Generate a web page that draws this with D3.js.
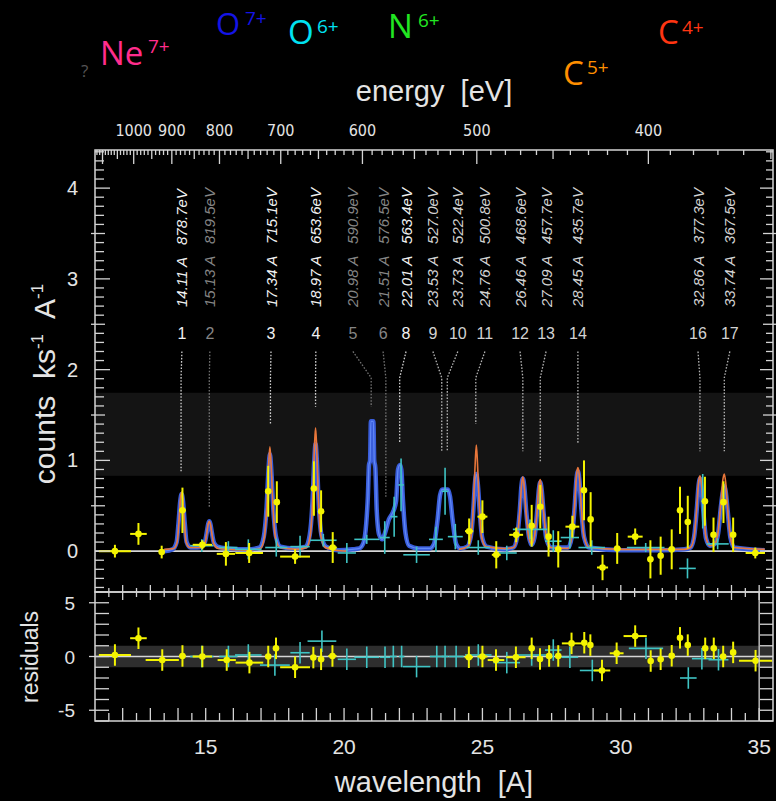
<!DOCTYPE html>
<html>
<head>
<meta charset="utf-8">
<script src="https://cdn.jsdelivr.net/npm/d3@7"></script>
<style>
  html, body { margin: 0; padding: 0; background: #000; }
  svg { display: block; }
</style>
</head>
<body>
<svg id="chart" width="776" height="801"></svg>
<script>
// ---------------- data ----------------
// identified emission lines
const lineIds      = ["1","2","3","4","5","6","8","9","10","11","12","13","14","16","17"];
const lineWave     = [14.11,15.13,17.34,18.97,20.98,21.51,22.01,23.53,23.73,24.76,26.46,27.09,28.45,32.86,33.74];
const lineEnergy   = ["878.7","819.5","715.1","653.6","590.9","576.5","563.4","527.0","522.4","500.8","468.6","457.7","435.7","377.3","367.5"];
const lineLabelAt  = [14.14,15.15,17.36,18.98,20.32,21.41,22.24,23.21,24.11,25.09,26.36,27.30,28.45,32.79,33.94];
const lineMarkEnd  = [0.88,0.49,1.40,1.59,1.59,0.60,1.19,1.10,1.10,1.40,1.10,0.99,1.19,1.10,1.10];
const lineTone     = ["hi","lo","hi","hi","lo","lo","hi","mid","mid","mid","mid","mid","mid","mid","mid"];

// ion species labels
const ionName   = ["Ne","O","O","N","C","C"];
const ionCharge = ["7+","7+","6+","6+","5+","4+"];
const ionColor  = ["#ff2d8c","#1414e6","#00e2f2","#22e622","#ff8f00","#ff3512"];

// top axis: photon energy (eV)
const energyTicks = [1000,900,800,700,600,500,400];
// bottom axis: wavelength (A)
const waveTicks = [15,20,25,30,35];
const countTicks = [0,1,2,3,4];
const residTicks = [-5,0,5];

// model spectrum, instrument 1 (blue), [wavelength, counts/ks/A]
const modelBlue = [
  [13.50,0.00],[13.80,0.02],[13.95,0.10],[14.02,0.32],[14.08,0.55],[14.13,0.63],[14.18,0.55],[14.24,0.32],[14.31,0.10],[14.45,0.04],
  [14.70,0.04],[14.85,0.05],[14.97,0.10],[15.04,0.21],[15.09,0.30],[15.13,0.33],[15.17,0.30],[15.22,0.21],[15.29,0.10],[15.42,0.05],
  [15.80,0.03],[16.50,0.02],[16.95,0.04],[17.10,0.16],[17.20,0.48],[17.27,0.90],[17.32,1.07],[17.37,0.90],[17.44,0.48],[17.54,0.16],
  [17.70,0.05],[18.20,0.03],[18.62,0.05],[18.76,0.18],[18.86,0.55],[18.92,0.98],[18.97,1.18],[19.02,0.98],[19.08,0.55],[19.18,0.18],
  [19.35,0.05],[19.80,0.01],[20.30,0.02],[20.55,0.03],[20.70,0.09],[20.80,0.30],[20.86,0.60],[20.90,0.95],[20.94,1.00],[20.97,1.43],
  [21.06,1.43],[21.09,1.00],[21.13,0.92],[21.18,0.45],[21.27,0.18],[21.38,0.13],[21.50,0.22],[21.62,0.35],[21.75,0.42],[21.88,0.55],
  [21.95,0.90],[22.02,0.95],[22.07,0.90],[22.13,0.55],[22.22,0.20],[22.35,0.06],[22.70,0.03],[23.10,0.03],[23.25,0.08],[23.38,0.35],
  [23.47,0.62],[23.55,0.68],[23.75,0.68],[23.83,0.60],[23.92,0.35],[24.05,0.08],[24.20,0.03],[24.45,0.05],[24.58,0.16],[24.67,0.45],
  [24.73,0.75],[24.78,0.85],[24.83,0.75],[24.90,0.45],[24.99,0.15],[25.15,0.05],[25.80,0.02],[26.12,0.04],[26.25,0.15],[26.35,0.45],
  [26.41,0.72],[26.46,0.80],[26.51,0.72],[26.58,0.45],[26.68,0.16],[26.78,0.07],[26.88,0.15],[26.98,0.45],[27.04,0.68],[27.09,0.76],
  [27.14,0.68],[27.21,0.42],[27.31,0.14],[27.48,0.04],[28.10,0.04],[28.23,0.16],[28.33,0.48],[28.40,0.80],[28.45,0.88],[28.50,0.80],
  [28.57,0.48],[28.67,0.16],[28.85,0.04],[30.00,0.01],[31.50,0.01],[32.30,0.02],[32.52,0.04],[32.65,0.16],[32.75,0.48],[32.81,0.72],
  [32.86,0.80],[32.91,0.72],[32.98,0.45],[33.08,0.14],[33.22,0.06],[33.40,0.08],[33.52,0.20],[33.62,0.50],[33.69,0.66],[33.74,0.72],
  [33.79,0.66],[33.86,0.45],[33.96,0.15],[34.10,0.04],[35.20,0.01]
];

// model spectrum, instrument 2 (orange), two detector segments
const modelOrangeA = [
  [13.50,0.02],[13.85,0.03],[13.97,0.10],[14.04,0.35],[14.09,0.58],[14.13,0.65],[14.17,0.58],[14.22,0.35],[14.29,0.10],[14.42,0.04],
  [14.80,0.04],[14.97,0.08],[15.04,0.20],[15.09,0.30],[15.13,0.33],[15.17,0.30],[15.22,0.20],[15.29,0.08],[15.45,0.03],[16.50,0.01],
  [16.98,0.03],[17.12,0.15],[17.21,0.50],[17.28,0.98],[17.32,1.15],[17.36,0.98],[17.43,0.50],[17.52,0.15],[17.68,0.04],[18.30,0.02],
  [18.65,0.04],[18.78,0.17],[18.87,0.60],[18.93,1.15],[18.97,1.36],[19.01,1.15],[19.07,0.60],[19.16,0.17],[19.32,0.04],[19.70,0.01],
  [20.10,0.00]
];
const modelOrangeB = [
  [24.15,0.02],[24.47,0.05],[24.60,0.18],[24.68,0.55],[24.74,0.98],[24.78,1.17],[24.82,0.98],[24.88,0.55],[24.96,0.17],[25.12,0.05],
  [25.80,0.03],[26.13,0.04],[26.26,0.16],[26.36,0.48],[26.42,0.75],[26.46,0.82],[26.50,0.75],[26.57,0.45],[26.67,0.16],[26.78,0.08],
  [26.88,0.16],[26.98,0.46],[27.04,0.72],[27.09,0.79],[27.14,0.70],[27.21,0.44],[27.31,0.15],[27.48,0.04],[28.10,0.03],[28.23,0.16],
  [28.33,0.50],[28.40,0.84],[28.45,0.92],[28.50,0.84],[28.57,0.50],[28.67,0.16],[28.85,0.04],[30.00,0.02],[31.50,0.02],[32.30,0.02],
  [32.52,0.04],[32.65,0.16],[32.75,0.50],[32.81,0.76],[32.86,0.83],[32.91,0.76],[32.98,0.47],[33.08,0.15],[33.22,0.06],[33.40,0.08],
  [33.52,0.22],[33.62,0.55],[33.69,0.79],[33.74,0.85],[33.79,0.76],[33.86,0.48],[33.96,0.15],[34.10,0.04],[35.20,0.02]
];

// measured spectrum, instrument 2 (yellow): [wavelength, counts, half-bin, error]
const dataYellow = [
  [11.72,0.00,0.58,0.07],[12.57,0.19,0.30,0.12],[13.41,-0.01,0.10,0.07],[14.16,0.45,0.12,0.25],[14.88,0.07,0.35,0.05],
  [15.73,-0.03,0.33,0.13],[16.57,-0.02,0.50,0.11],[17.26,0.66,0.10,0.28],[17.57,0.54,0.10,0.23],[18.23,-0.06,0.54,0.08],
  [18.91,0.69,0.08,0.30],[19.17,0.44,0.10,0.23],[19.59,0.04,0.15,0.17],[24.52,0.22,0.15,0.14],[25.00,0.38,0.18,0.18],
  [25.50,-0.04,0.16,0.15],[26.22,0.18,0.25,0.08],[26.78,0.28,0.06,0.23],[27.09,0.49,0.06,0.24],[27.39,0.16,0.06,0.22],
  [27.74,0.02,0.06,0.20],[28.25,0.27,0.25,0.12],[28.67,0.67,0.05,0.33],[28.91,0.35,0.05,0.30],[29.34,-0.18,0.20,0.14],
  [29.87,0.03,0.12,0.17],[30.52,0.16,0.27,0.09],[31.07,-0.09,0.10,0.21],[31.44,-0.05,0.05,0.21],[31.84,0.02,0.12,0.22],
  [32.14,0.45,0.05,0.26],[32.42,0.32,0.05,0.29],[33.04,0.55,0.05,0.27],[33.35,0.18,0.05,0.19],[33.71,0.54,0.05,0.23],
  [34.06,0.18,0.05,0.19],[34.86,-0.02,0.35,0.06]
];
// measured spectrum, instrument 1 (cyan)
const dataCyan = [
  [14.86,0.06,0.42,0.07],[15.82,0.04,0.33,0.07],[16.54,0.02,0.48,0.11],[17.55,0.04,0.40,0.10],[18.41,0.05,0.35,0.12],
  [19.25,0.12,0.48,0.07],[20.10,-0.02,0.33,0.11],[20.82,0.13,0.45,0.05],[21.47,0.15,0.18,0.18],[21.81,0.38,0.12,0.22],
  [22.06,0.73,0.10,0.29],[22.62,-0.04,0.48,0.09],[23.32,0.13,0.25,0.14],[23.65,0.66,0.12,0.26],[24.02,0.16,0.27,0.14],
  [24.85,0.04,0.42,0.08],[25.88,-0.02,0.36,0.08],[26.72,0.24,0.62,0.11],[27.56,0.11,0.30,0.12],[28.16,0.15,0.33,0.12],
  [28.95,0.04,0.48,0.08],[30.90,0.04,0.68,0.05],[32.41,-0.19,0.30,0.11],[32.96,0.55,0.06,0.30],[33.50,0.08,0.40,0.06]
];

// residuals in units of sigma: [wavelength, residual, half-bin]
const residYellow = [
  [11.72,0.14,0.58],[12.57,1.70,0.30],[13.43,-0.33,0.60],[14.16,0.05,0.12],[14.88,0.00,0.35],[15.76,-0.33,0.33],
  [16.58,-0.57,0.50],[17.26,0.00,0.10],[17.54,0.76,0.10],[18.23,-1.00,0.54],[18.89,-0.10,0.08],[19.17,-0.26,0.10],
  [19.58,0.05,0.15],[24.51,-0.07,0.15],[25.00,0.00,0.18],[25.49,-0.33,0.30],[26.21,-0.07,0.35],[26.78,0.76,0.06],
  [27.08,-0.23,0.06],[27.41,0.05,0.06],[27.74,0.05,0.06],[28.22,1.22,0.35],[28.68,1.28,0.05],[28.90,1.06,0.05],
  [29.32,-1.30,0.30],[29.85,0.30,0.25],[30.52,1.90,0.42],[31.08,-0.42,0.05],[31.44,-0.26,0.05],[31.84,0.07,0.05],
  [32.14,1.74,0.05],[32.42,1.06,0.05],[33.05,0.76,0.05],[33.36,0.76,0.05],[33.70,0.00,0.05],[34.06,0.38,0.05],
  [34.87,-0.39,0.60]
];
const residCyan = [
  [14.86,0.00,0.42],[15.82,0.00,0.33],[16.54,0.14,0.48],[17.50,-0.80,0.54],[18.41,0.35,0.35],[19.20,1.43,0.52],
  [20.10,-0.26,0.33],[20.82,-0.07,0.45],[21.48,-0.07,0.18],[21.78,0.00,0.12],[22.08,0.00,0.10],[22.62,-0.94,0.50],
  [23.35,0.00,0.25],[23.65,0.00,0.12],[24.05,0.00,0.27],[24.85,0.14,0.48],[25.88,-0.57,0.48],[26.78,0.14,0.62],
  [27.56,0.60,0.30],[28.16,-0.07,0.30],[28.97,-1.30,0.45],[30.91,0.76,0.62],[32.44,-2.00,0.30],[32.93,-0.20,0.36],
  [33.53,-0.30,0.36]
];

// shaded reference bands
const mainBand  = [0.83, 1.745];
const residBand = [-1, 1];

// ---------------- layout ----------------
const W = 776, H = 801;
const L = 95, R = 773, T = 150, MB = 592, RB = 721;
const HC = 12.39842; // keV * A

const x  = d3.scaleLinear().domain([11, 35.5]).range([L, R]);
const y  = d3.scaleLinear().domain([-0.45, 4.42]).range([MB, T]);
const yr = d3.scaleLinear().domain([-6, 6]).range([RB, MB]);
const xE = e => x(HC * 1000 / e);

const FG = "#e4e4e4";
const SANS = "'Liberation Sans', Arial, Helvetica, sans-serif";
const NARROW = "'Liberation Sans Narrow', 'DejaVu Sans Condensed', 'Liberation Sans', sans-serif";

const svg = d3.select("#chart");
svg.append("rect").attr("width", W).attr("height", H).attr("fill", "#000");

// bands
svg.append("rect")
  .attr("x", L).attr("width", R - L)
  .attr("y", y(mainBand[1])).attr("height", y(mainBand[0]) - y(mainBand[1]))
  .attr("fill", "#141414");
svg.append("rect")
  .attr("x", L).attr("width", R - L)
  .attr("y", yr(residBand[1])).attr("height", yr(residBand[0]) - yr(residBand[1]))
  .attr("fill", "#2e2e2e");

// zero lines
svg.append("line").attr("x1", L).attr("x2", R).attr("y1", y(0)).attr("y2", y(0))
  .attr("stroke", "#d6d6d6").attr("stroke-width", 1.6);
svg.append("line").attr("x1", L).attr("x2", R).attr("y1", yr(0)).attr("y2", yr(0))
  .attr("stroke", "#d6d6d6").attr("stroke-width", 1.4);

// model curves
const modelLine = d3.line().x(d => x(d[0])).y(d => y(d[1])).curve(d3.curveMonotoneX);
svg.append("path").attr("d", modelLine(modelBlue))
  .attr("fill", "none").attr("stroke", "#3a5edb").attr("stroke-width", 4.5)
  .attr("stroke-linejoin", "round");
svg.append("path").attr("d", modelLine(modelBlue))
  .attr("fill", "none").attr("stroke", "#6f97ff").attr("stroke-width", 1.2).attr("opacity", 0.75);
[modelOrangeA, modelOrangeB].forEach(seg => {
  svg.append("path").attr("d", modelLine(seg))
    .attr("fill", "none").attr("stroke", "#e8763a").attr("stroke-width", 1.6);
});

// line identifications
const toneColor = { hi: "#f2f2f2", mid: "#d2d2d2", lo: "#858585" };
const leaderTop = 2.2, leaderKink = 1.91, numberBase = 2.34, labelStart = 2.69;
const ids = svg.append("g");
lineIds.forEach((id, i) => {
  const xl = x(lineLabelAt[i]), xw = x(lineWave[i]);
  const col = toneColor[lineTone[i]];
  ids.append("path")
    .attr("d", `M${xl},${y(leaderTop)} L${xw},${y(leaderKink)} L${xw},${y(lineMarkEnd[i])}`)
    .attr("fill", "none").attr("stroke", col).attr("stroke-width", 1.3)
    .attr("stroke-dasharray", "1.6,1.6").attr("opacity", 0.85);
  ids.append("text")
    .attr("x", xl).attr("y", y(numberBase))
    .attr("text-anchor", "middle").attr("fill", col)
    .attr("font-family", SANS).attr("font-size", 16)
    .text(id);
  ids.append("text")
    .attr("transform", `translate(${xl + 5.5},${y(labelStart)}) rotate(-90)`)
    .attr("fill", col).attr("font-family", SANS).attr("font-size", 15)
    .attr("font-style", "italic").style("white-space", "pre")
    .text(`${lineWave[i].toFixed(2)} A   ${lineEnergy[i]}eV`);
});

// measured points with error bars
function crosses(g, data, ys, color, width, dot) {
  const sel = g.selectAll("g").data(data).enter().append("g");
  sel.append("line")
    .attr("x1", d => x(d[0] - d[2])).attr("x2", d => x(d[0] + d[2]))
    .attr("y1", d => ys(d[1])).attr("y2", d => ys(d[1]))
    .attr("stroke", color).attr("stroke-width", width);
  sel.append("line")
    .attr("x1", d => x(d[0])).attr("x2", d => x(d[0]))
    .attr("y1", d => ys(d[1] - d[3])).attr("y2", d => ys(d[1] + d[3]))
    .attr("stroke", color).attr("stroke-width", width);
  if (dot) sel.append("circle").attr("cx", d => x(d[0])).attr("cy", d => ys(d[1]))
    .attr("r", 3.3).attr("fill", color);
}
crosses(svg.append("g"), dataCyan, y, "#3fc4c4", 1.6, false);
crosses(svg.append("g"), dataYellow, y, "#f4f400", 2, true);
crosses(svg.append("g"), residCyan.map(d => [d[0], d[1], d[2], 1]), yr, "#3fc4c4", 1.6, false);
crosses(svg.append("g"), residYellow.map(d => [d[0], d[1], d[2], 1]), yr, "#f4f400", 2, true);

// frames and ticks
const frame = svg.append("g").attr("stroke", "#d4d4d4").attr("fill", "none");
frame.append("rect").attr("x", L).attr("y", T).attr("width", R - L).attr("height", MB - T).attr("stroke-width", 1.5);
frame.append("rect").attr("x", L).attr("y", MB).attr("width", R - L).attr("height", RB - MB).attr("stroke-width", 1.5);
frame.append("line").attr("x1", x(35)).attr("x2", x(35)).attr("y1", MB).attr("y2", RB).attr("stroke-width", 1.3);

const tk = svg.append("g").attr("stroke", "#d4d4d4").attr("stroke-width", 1.3);
// energy ticks along the top
d3.range(350, 1130, 10).forEach(e => {
  const len = e % 100 === 0 ? 14 : (e % 50 === 0 ? 9 : 5);
  tk.append("line").attr("x1", xE(e)).attr("x2", xE(e)).attr("y1", T).attr("y2", T + len);
});
// wavelength ticks, every half Angstrom
d3.range(11.5, 35.5, 0.5).forEach(w => {
  const major = Number.isInteger(w);
  tk.append("line").attr("x1", x(w)).attr("x2", x(w))
    .attr("y1", MB - (major ? 7 : 4)).attr("y2", MB + (major ? 8 : 5));
  tk.append("line").attr("x1", x(w)).attr("x2", x(w))
    .attr("y1", RB).attr("y2", RB - (major ? 13 : 8));
});
// count-rate ticks, left and right
d3.range(-4, 45, 1).map(v => v / 10).forEach(v => {
  const isInt = Math.abs(v - Math.round(v)) < 1e-6;
  const isHalf = !isInt && Math.abs(v * 2 - Math.round(v * 2)) < 1e-6;
  const inner = isInt ? 15 : (isHalf ? 10 : 9);
  const outer = isHalf ? 4 : 0;
  tk.append("line").attr("x1", L - outer).attr("x2", L + inner).attr("y1", y(v)).attr("y2", y(v));
  tk.append("line").attr("x1", R + outer).attr("x2", R - (isInt ? 13 : (isHalf ? 10 : 7))).attr("y1", y(v)).attr("y2", y(v));
});
// residual ticks
d3.range(-6, 7, 1).forEach(v => {
  const major = v % 5 === 0;
  tk.append("line").attr("x1", L - (major ? 6 : 0)).attr("x2", L + 14).attr("y1", yr(v)).attr("y2", yr(v));
  tk.append("line").attr("x1", R).attr("x2", R - 13).attr("y1", yr(v)).attr("y2", yr(v));
});

// tick labels
const lab = svg.append("g").attr("fill", FG).attr("font-family", SANS);
energyTicks.forEach(e => {
  lab.append("text").attr("x", xE(e)).attr("y", 136).attr("text-anchor", "middle")
    .attr("font-family", NARROW).attr("font-size", 16).text(e);
});
waveTicks.forEach(w => {
  lab.append("text").attr("x", x(w)).attr("y", 754).attr("text-anchor", "middle")
    .attr("font-size", 21).text(w);
});
countTicks.forEach(v => {
  lab.append("text").attr("x", 78).attr("y", y(v) + 7).attr("text-anchor", "end")
    .attr("font-size", 20).text(v);
});
residTicks.forEach(v => {
  lab.append("text").attr("x", 75).attr("y", yr(v) + 7).attr("text-anchor", "end")
    .attr("font-size", 19).text(v < 0 ? "-" + Math.abs(v) : v);
});

// axis titles
lab.append("text").attr("x", 434).attr("y", 101).attr("text-anchor", "middle")
  .attr("font-size", 29).style("white-space", "pre").text("energy  [eV]");
lab.append("text").attr("x", 434).attr("y", 792).attr("text-anchor", "middle")
  .attr("font-size", 29).style("white-space", "pre").text("wavelength  [A]");
lab.append("text").attr("transform", "translate(38,657) rotate(-90)").attr("text-anchor", "middle")
  .attr("font-size", 23).text("residuals");
const yt = lab.append("text").attr("transform", "translate(55,384) rotate(-90)")
  .attr("text-anchor", "middle").attr("font-size", 30).style("white-space", "pre");
yt.append("tspan").text("counts  ks");
yt.append("tspan").attr("dy", -12).attr("font-size", 17).text("-1");
yt.append("tspan").attr("dy", 12).text("  A");
yt.append("tspan").attr("dy", -12).attr("font-size", 17).text("-1");

// ion species
const ionPos = [[100,65,148,53,33],[216,35,245,25,31],[288,44,317,33,33],[388,38,418,27,33],[563,85,587,74,33],[658,44,682,34,33]];
const ions = svg.append("g").attr("font-family", "'Open Sans', 'Noto Sans', sans-serif");
ionName.forEach((n, i) => {
  const p = ionPos[i];
  ions.append("text").attr("x", p[0]).attr("y", p[1]).attr("fill", ionColor[i])
    .attr("font-size", p[4]).text(n);
  ions.append("text").attr("x", p[2]).attr("y", p[3]).attr("fill", ionColor[i])
    .attr("font-size", 19).text(ionCharge[i]);
});
ions.append("text").attr("x", 81).attr("y", 77).attr("fill", "#555").attr("font-size", 17).text("?");
</script>
</body>
</html>
